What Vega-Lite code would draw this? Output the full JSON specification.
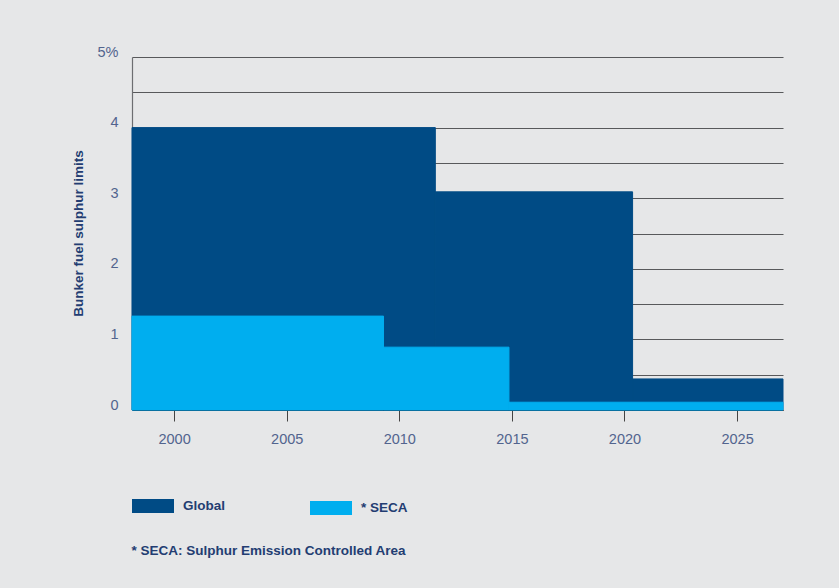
{
  "$schema": "https://vega.github.io/schema/vega-lite/v6.json",
  "width": 651,
  "height": 353,
  "autosize": {"type": "none"},
  "padding": {"left": 132, "top": 57, "right": 56, "bottom": 178},
  "background": "#e6e7e8",
  "config": {
    "view": {"stroke": null},
    "font": "Liberation Sans",
    "axis": {"labelFont": "Liberation Sans", "titleFont": "Liberation Sans"},
    "legend": {"labelFont": "Liberation Sans"}
  },
  "datasets": {
    "global": [
      {"series": "Global", "start": 1998.13, "end": 2011.6, "limit": 4.0},
      {"series": "Global", "start": 2011.6, "end": 2020.36, "limit": 3.09},
      {"series": "Global", "start": 2020.36, "end": 2027.04, "limit": 0.44}
    ],
    "seca": [
      {"series": "* SECA", "start": 1998.13, "end": 2009.3, "limit": 1.33},
      {"series": "* SECA", "start": 2009.3, "end": 2014.87, "limit": 0.89},
      {"series": "* SECA", "start": 2014.87, "end": 2027.04, "limit": 0.11}
    ]
  },
  "layer": [
    {
      "data": {"name": "global"},
      "mark": {"type": "rect", "stroke": "#004b85", "strokeWidth": 1},
      "encoding": {
        "x": {
          "field": "start", "type": "quantitative",
          "scale": {"domain": [1998.13, 2027.04], "nice": false, "zero": false},
          "axis": {
            "values": [2000, 2005, 2010, 2015, 2020, 2025],
            "tickCount": 20,
            "format": "d",
            "grid": false,
            "domainColor": "#231f20",
            "domainWidth": 1,
            "tickColor": "#444444",
            "tickSize": 11,
            "labelFontSize": 14.5,
            "labelColor": "#52648e",
            "labelPadding": 11,
            "title": "* SECA: Sulphur Emission Controlled Area",
            "titleFontSize": 13.5,
            "titleFontWeight": "bold",
            "titleColor": "#233d72",
            "titleX": -1,
            "titleY": 140,
            "titleAlign": "left",
            "titleAnchor": "start",
            "titleBaseline": "middle"
          }
        },
        "x2": {"field": "end"},
        "y": {
          "field": "limit", "type": "quantitative",
          "scale": {"domain": [0, 5], "nice": false},
          "axis": {
            "values": [0, 0.5, 1, 1.5, 2, 2.5, 3, 3.5, 4, 4.5, 5],
            "tickCount": 20,
            "labelExpr": "datum.value == 5 ? '5%' : (datum.value % 1 == 0 ? format(datum.value, 'd') : '')",
            "labelOverlap": false,
            "grid": true,
            "gridColor": "#58595b",
            "gridWidth": 1.2,
            "ticks": false,
            "domainColor": "#6d6e71",
            "domainWidth": 1.2,
            "labelFontSize": 14.5,
            "labelColor": "#52648e",
            "labelPadding": 14,
            "labelOffset": -5,
            "title": "Bunker fuel sulphur limits",
            "titleFontSize": 13.5,
            "titleFontWeight": "bold",
            "titleColor": "#233d72",
            "titleX": -54,
            "titleY": 176,
            "titleAngle": -90,
            "titleAlign": "center",
            "titleBaseline": "middle"
          }
        },
        "y2": {"datum": 0},
        "color": {
          "field": "series", "type": "nominal",
          "scale": {"domain": ["Global"], "range": ["#004b85"]},
          "legend": {
            "title": null,
            "orient": "none",
            "legendX": 0,
            "legendY": 428,
            "padding": 0,
            "symbolType": "M-1,-0.333H1V0.333H-1Z",
            "symbolSize": 1764,
            "symbolStrokeWidth": 0,
            "labelOffset": 9,
            "labelFontSize": 13.5,
            "labelFontWeight": "bold",
            "labelColor": "#233d72",
            "encode": {"symbols": {"update": {"fill": {"value": "#1c366c"}, "stroke": {"value": "transparent"}}}}
          }
        }
      }
    },
    {
      "data": {"name": "seca"},
      "mark": {"type": "rect", "stroke": "#00aeef", "strokeWidth": 1},
      "encoding": {
        "x": {"field": "start", "type": "quantitative"},
        "x2": {"field": "end"},
        "y": {"field": "limit", "type": "quantitative"},
        "y2": {"datum": 0},
        "color": {
          "field": "series", "type": "nominal",
          "scale": {"domain": ["* SECA"], "range": ["#00aeef"]},
          "legend": {
            "title": null,
            "orient": "none",
            "legendX": 178,
            "legendY": 430,
            "padding": 0,
            "symbolType": "M-1,-0.333H1V0.333H-1Z",
            "symbolSize": 1764,
            "symbolStrokeWidth": 0,
            "labelOffset": 9,
            "labelFontSize": 13.5,
            "labelFontWeight": "bold",
            "labelColor": "#233d72",
            "encode": {"symbols": {"update": {"fill": {"value": "#00aeef"}, "stroke": {"value": "transparent"}}}}
          }
        }
      }
    }
  ],
  "resolve": {"scale": {"color": "independent"}}
}
